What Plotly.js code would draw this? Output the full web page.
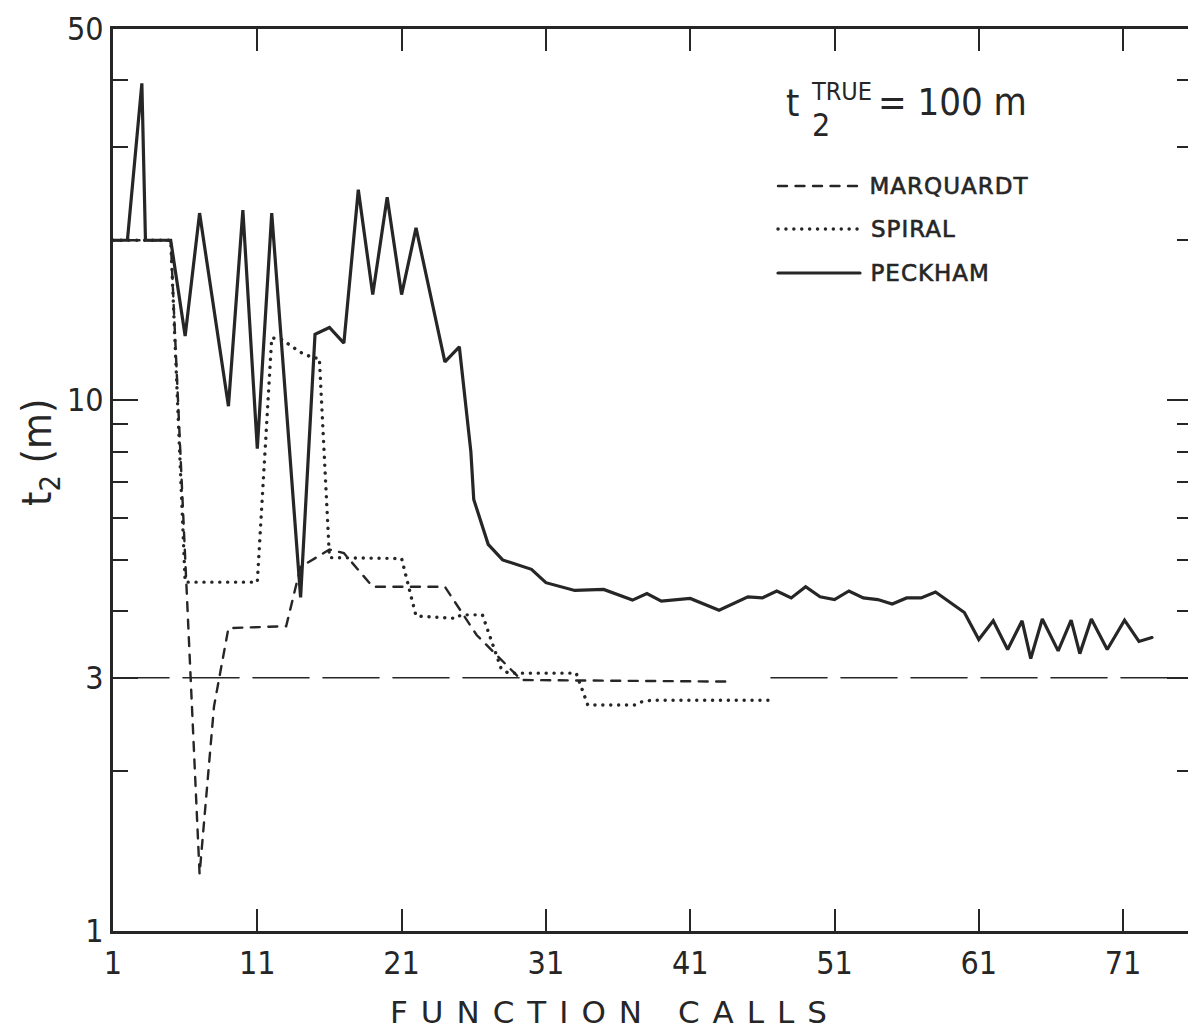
<!DOCTYPE html>
<html>
<head>
<meta charset="utf-8">
<script src="https://cdn.plot.ly/plotly-3.0.1.min.js"></script>
<style>
  html, body { margin: 0; padding: 0; background: #fff; overflow: hidden; }
  #chart { width: 1192px; height: 1034px; }
  .scatterlayer path.js-line, .shapelayer path { stroke-linecap: round; }
  g.annotation[data-index="0"] text { letter-spacing: 13px; }
  g.annotation[data-index="1"] text,
  g.annotation[data-index="2"] text,
  g.annotation[data-index="3"] text { letter-spacing: 1px; stroke: #262626; stroke-width: 0.6px; }
</style>
</head>
<body>
<div id="chart"></div>
<script>
// t2 estimate (m) against the number of function calls, one series per method
const marquardtCalls = [1, 5, 7, 8, 9, 13, 14, 16, 17, 19, 24, 26.2, 29.3, 43.5];
const marquardtT2    = [20, 20, 1.28, 2.65, 3.72, 3.75, 4.85, 5.23, 5.15, 4.45, 4.45, 3.61, 2.97, 2.95];

const spiralCalls = [1, 5, 6, 11, 12, 12.7, 14, 14.9, 15.3, 16, 21, 22, 24.8, 25.1, 26.6, 27.9, 28.4, 33.1, 33.9, 37.2, 37.6, 38.3, 46.6];
const spiralT2    = [20, 20, 4.54, 4.54, 13.1, 13.0, 12.3, 12.0, 12.0, 5.05, 5.03, 3.92, 3.88, 3.94, 3.94, 3.12, 3.06, 3.06, 2.665, 2.665, 2.70, 2.72, 2.72];

const peckhamCalls = [1, 2, 3, 3.25, 5, 6, 7, 9, 10, 11, 12, 14, 15, 16, 17, 18, 19, 20, 21, 22, 24, 25, 25.8, 26, 27, 28, 30, 31, 33, 35, 37, 38, 39, 41, 43, 45, 46, 47, 48, 49, 50, 51, 52, 53, 54, 55, 56, 57, 58, 60, 61, 62, 63, 64, 64.6, 65.4, 66.5, 67.4, 68.0, 68.8, 69.9, 71.1, 72.1, 73.0];
const peckhamT2    = [20, 20, 39.5, 20, 20, 13.2, 22.5, 9.74, 22.8, 8.1, 22.5, 4.25, 13.3, 13.7, 12.8, 24.9, 15.8, 24.1, 15.8, 21.1, 11.8, 12.6, 8.0, 6.5, 5.35, 5.0, 4.8, 4.53, 4.38, 4.4, 4.2, 4.32, 4.18, 4.23, 4.02, 4.26, 4.24, 4.37, 4.24, 4.45, 4.26, 4.21, 4.37, 4.24, 4.21, 4.13, 4.24, 4.24, 4.35, 3.98, 3.54, 3.84, 3.39, 3.84, 3.26, 3.87, 3.37, 3.85, 3.33, 3.87, 3.39, 3.85, 3.51, 3.57];

// horizontal reference level at t2 = 3 m, broken where the curves run along it
const refCalls = [1, 29.3, null, 46.6, 76];
const refT2    = [3, 3, null, 3, 3];

const xTickVals = [1, 11, 21, 31, 41, 51, 61, 71];
const xTickText = ['1', '11', '21', '31', '41', '51', '61', '71'];
const yTickVals = [1, 3, 10, 50];
const yTickText = ['1', '3', '10', '50'];
const yMinorVals = [2, 4, 5, 6, 7, 8, 9, 20, 30, 40];

const legendNames = ['MARQUARDT', 'SPIRAL', 'PECKHAM'];

const INK = '#262626';
const FONT = '"DejaVu Sans Condensed", "Liberation Sans Narrow", "DejaVu Sans", sans-serif';
const WIDE = '"DejaVu Sans", sans-serif';

// line styles (round caps are added in the stylesheet)
const styles = {
  ref:       { color: INK, width: 1.6, dash: '56px,14px' },
  marquardt: { color: INK, width: 2.4, dash: '9px,8.5px' },
  spiral:    { color: INK, width: 3.4, dash: '0.1px,7.8px' },
  peckham:   { color: INK, width: 3.2 }
};

const traces = [
  { x: refCalls, y: refT2, mode: 'lines', connectgaps: false, line: styles.ref, hoverinfo: 'skip' },
  { x: marquardtCalls, y: marquardtT2, mode: 'lines', name: legendNames[0], line: styles.marquardt },
  { x: spiralCalls, y: spiralT2, mode: 'lines', name: legendNames[1], line: styles.spiral },
  { x: peckhamCalls, y: peckhamT2, mode: 'lines', name: legendNames[2], line: styles.peckham }
];

// plot area in pixels: left 113, right 1192, top 29, bottom 931
const L = 113, R = 1192, T = 29, B = 931;
const px = v => (v - L) / (R - L);
const py = v => (B - v) / (B - T);

// hand-placed legend: sample line plus label for each method
const legendY = [186, 229, 273];
const legendStyles = [styles.marquardt, styles.spiral, styles.peckham];
const shapes = legendY.map((yy, i) => ({
  type: 'line', xref: 'paper', yref: 'paper',
  x0: px(778), x1: px(860), y0: py(yy), y1: py(yy),
  line: Object.assign({ dash: 'solid' }, legendStyles[i])
}));

const annotations = [
  // x-axis title (letter-spaced through the stylesheet)
  { xref: 'paper', yref: 'paper', x: px(615), y: py(1012), xanchor: 'center', yanchor: 'middle',
    showarrow: false, text: 'FUNCTION CALLS', font: { family: WIDE, size: 31, color: INK } }
];

legendNames.forEach((n, i) => annotations.push({
  xref: 'paper', yref: 'paper', x: px(872), y: py(legendY[i]),
  xanchor: 'left', yanchor: 'middle', showarrow: false, text: n,
  font: { family: WIDE, size: 23, color: INK }
}));

annotations.push(
  { xref: 'paper', yref: 'paper', x: px(792), y: py(103), xanchor: 'center', yanchor: 'middle',
    showarrow: false, text: 't', font: { family: FONT, size: 38, color: INK } },
  { xref: 'paper', yref: 'paper', x: px(841), y: py(91), xanchor: 'center', yanchor: 'middle',
    showarrow: false, text: 'TRUE', font: { family: FONT, size: 25, color: INK } },
  { xref: 'paper', yref: 'paper', x: px(821), y: py(125), xanchor: 'center', yanchor: 'middle',
    showarrow: false, text: '2', font: { family: FONT, size: 32, color: INK } },
  { xref: 'paper', yref: 'paper', x: px(876), y: py(102), xanchor: 'left', yanchor: 'middle',
    showarrow: false, text: '= 100 m', font: { family: FONT, size: 38, color: INK } },
  { xref: 'paper', yref: 'paper', x: px(40), y: py(453), xanchor: 'center', yanchor: 'middle',
    textangle: -90, showarrow: false, text: 't<sub>2</sub> (m)',
    font: { family: FONT, size: 41, color: INK } }
);

const layout = {
  width: 1192, height: 1034,
  margin: { l: L, r: 1192 - R, t: T, b: 1034 - B },
  paper_bgcolor: '#fff', plot_bgcolor: '#fff',
  showlegend: false,
  font: { family: FONT, color: INK },
  xaxis: {
    range: [1, 1 + (R - L) / 14.43], showgrid: false, zeroline: false,
    showline: true, linewidth: 3, linecolor: INK, mirror: 'ticks',
    ticks: 'inside', ticklen: 22, tickwidth: 2, tickcolor: INK,
    tickmode: 'array', tickvals: xTickVals, ticktext: xTickText,
    tickfont: { family: FONT, size: 32, color: INK }, ticklabelstandoff: 2
  },
  yaxis: {
    type: 'log', range: [0, Math.log10(50)], showgrid: false, zeroline: false,
    showline: true, linewidth: 3, linecolor: INK, mirror: 'ticks',
    ticks: 'inside', ticklen: 25, tickwidth: 2, tickcolor: INK,
    tickmode: 'array', tickvals: yTickVals, ticktext: yTickText,
    tickfont: { family: FONT, size: 32, color: INK }, ticklabelstandoff: 0,
    minor: { tickmode: 'array', tickvals: yMinorVals, ticks: 'inside', ticklen: 15, tickwidth: 2, tickcolor: INK, showgrid: false }
  },
  shapes: shapes,
  annotations: annotations
};

Plotly.newPlot('chart', traces, layout, { displayModeBar: false, staticPlot: true });
</script>
</body>
</html>
